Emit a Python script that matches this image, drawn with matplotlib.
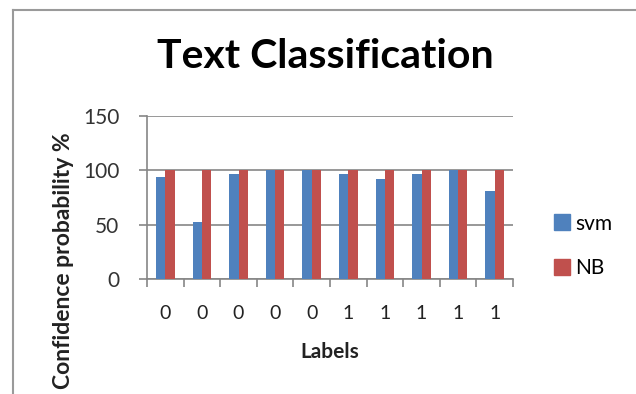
import matplotlib
matplotlib.use("Agg")
import matplotlib.pyplot as plt
from matplotlib.lines import Line2D
import numpy as np

# data
labels = ["0", "0", "0", "0", "0", "1", "1", "1", "1", "1"]
svm = [94, 52, 97, 100, 100, 97, 92, 97, 100, 81]
nb = [100, 100, 100, 100, 100, 100, 100, 100, 100, 100]

blue = "#4F81BD"
red = "#C0504D"
grey = "#868686"

plt.rcParams["font.family"] = ["Lato", "DejaVu Sans"]

fig = plt.figure(figsize=(6.36, 3.94), dpi=100)
ax = fig.add_axes([147 / 636, 115 / 394, 366 / 636, 163 / 394])

x = np.arange(len(labels))
w = 0.255
ax.bar(x - w / 2, svm, w, color=blue, label="svm", zorder=3)
ax.bar(x + w / 2, nb, w, color=red, label="NB", zorder=3)

ax.set_xlim(-0.5, len(labels) - 0.5)
ax.set_ylim(0, 150)
ax.set_yticks([0, 50, 100, 150])
ax.yaxis.grid(True, color=grey, linewidth=1.2, zorder=0)

ax.set_xticks(x)
ax.set_xticklabels(labels)
ax.set_xticks(np.arange(-0.5, len(labels)), minor=True)
ax.tick_params(axis="x", which="major", length=0, pad=19, labelsize=14,
               labelcolor="#222222")
ax.tick_params(axis="x", which="minor", length=6, color=grey, width=1.2)
ax.tick_params(axis="y", length=6, color=grey, width=1.2, labelsize=15,
               labelcolor="#333333", pad=14)

for side in ["top", "right"]:
    ax.spines[side].set_visible(False)
for side in ["left", "bottom"]:
    ax.spines[side].set_color(grey)
    ax.spines[side].set_linewidth(1.2)

ax.set_xlabel("Labels", fontsize=15, fontweight="bold", labelpad=14,
              color="#222222")
ax.set_ylabel("Confidence probability %", fontsize=16.5, fontweight="bold",
              color="#222222")
ax.yaxis.set_label_coords(-0.2, 0.115)

fig.text(325 / 636, 1 - 57 / 394, "Text Classification", fontsize=29.5,
         fontweight="bold", ha="center", va="center")

# legend on the right
handles = [Line2D([], [], marker="s", linestyle="", markersize=11,
                  markerfacecolor=blue, markeredgecolor=blue),
           Line2D([], [], marker="s", linestyle="", markersize=11,
                  markerfacecolor=red, markeredgecolor=red)]
fig.legend(handles, ["svm", "NB"], loc="center left",
           bbox_to_anchor=(536 / 636, 1 - 246 / 394), frameon=False,
           fontsize=15, handlelength=0.7, handletextpad=0.3,
           labelspacing=1.2)

# chart area border
fig.add_artist(Line2D([13 / 636, 13 / 636], [0, 1 - 10 / 394],
                      color="#9a9a9a", linewidth=1.5))
fig.add_artist(Line2D([13 / 636, 1], [1 - 10 / 394, 1 - 10 / 394],
                      color="#9a9a9a", linewidth=1.5))

fig.savefig("out.png", dpi=100)
